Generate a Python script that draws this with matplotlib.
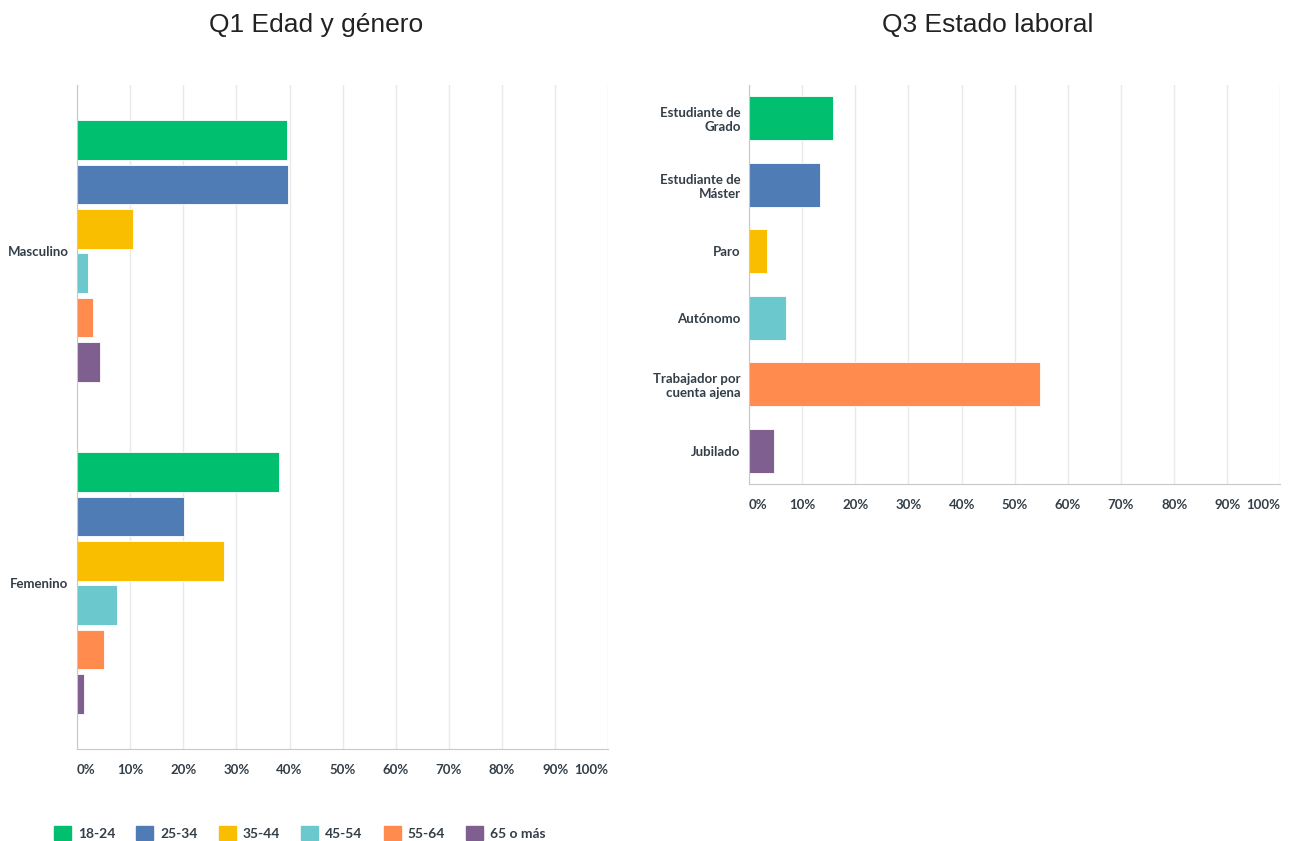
import matplotlib

matplotlib.use("Agg")

import matplotlib.pyplot as plt
import numpy as np
from matplotlib.patches import Patch

# ---------------------------------------------------------------------
# Datos
# ---------------------------------------------------------------------
genders = ["Masculino", "Femenino"]
age_groups = ["18-24", "25-34", "35-44", "45-54", "55-64", "65 o más"]
age_masculino = [39.6, 39.7, 10.6, 2.0, 3.1, 4.4]
age_femenino = [38.0, 20.2, 27.7, 7.5, 5.0, 1.3]

job_status = ["Estudiante de\nGrado", "Estudiante de\nMáster", "Paro",
              "Autónomo", "Trabajador por\ncuenta ajena", "Jubilado"]
job_values = [15.8, 13.4, 3.4, 7.0, 54.8, 4.6]

colors = ["#00bf6f", "#507cb6", "#f9be00", "#6bc8cd", "#ff8b4f", "#7f5f90"]
xticks = list(range(0, 101, 10))
xtick_labels = [f"{t}%" for t in xticks]

TEXT = "#333e48"
GRID = "#e9e9e9"
SPINE = "#c8c8c8"
LABEL_FONT = "Lato"


def style_axis(ax):
    ax.set_xlim(0, 100)
    ax.set_xticks(xticks)
    ax.set_xticklabels(xtick_labels)
    ax.grid(True, axis="x", color=GRID, linewidth=1.0)
    ax.set_axisbelow(True)
    for side in ("top", "right"):
        ax.spines[side].set_visible(False)
    ax.spines["left"].set_color(SPINE)
    ax.spines["bottom"].set_color(SPINE)
    ax.tick_params(axis="both", length=0, colors=TEXT)
    ax.tick_params(axis="x", pad=11)
    ax.tick_params(axis="y", pad=6)
    for lab in ax.get_xticklabels() + ax.get_yticklabels():
        lab.set_fontfamily(LABEL_FONT)
        lab.set_fontweight("bold")
        lab.set_fontsize(9.5)
        lab.set_color(TEXT)
    xl = ax.get_xticklabels()
    xl[0].set_horizontalalignment("left")
    xl[-1].set_horizontalalignment("right")


fig = plt.figure(figsize=(12.96, 8.41), dpi=100)

# ---------------------------------------------------------------------
# Q1 Edad y genero
# ---------------------------------------------------------------------
ax1 = fig.add_axes([0.0594, 0.1094, 0.410, 0.7895])
series = np.array([age_masculino, age_femenino])
pitch = 0.1335
bar_h = 0.12
y = np.arange(len(genders))
for i, (grp, col) in enumerate(zip(age_groups, colors)):
    offs = (i - (len(age_groups) - 1) / 2) * pitch
    ax1.barh(y + offs, series[:, i], height=bar_h, color=col,
             edgecolor="white", linewidth=0.6, label=grp)
ax1.set_yticks(y)
ax1.set_yticklabels(genders)
ax1.set_ylim(len(genders) - 0.5, -0.5)
style_axis(ax1)

# ---------------------------------------------------------------------
# Q3 Estado laboral
# ---------------------------------------------------------------------
ax2 = fig.add_axes([0.578, 0.4245, 0.410, 0.4744])
y2 = np.arange(len(job_status))
ax2.barh(y2, job_values, height=0.66, color=colors,
         edgecolor="white", linewidth=0.6)
ax2.set_yticks(y2)
ax2.set_yticklabels(job_status, multialignment="right")
ax2.set_ylim(len(job_status) - 0.5, -0.5)
style_axis(ax2)

# Titulos
fig.text(316 / 1296, 1 - 25 / 841, "Q1 Edad y género", ha="center", va="center",
         fontsize=19, family="Liberation Sans", color="#222222")
fig.text(988 / 1296, 1 - 25 / 841, "Q3 Estado laboral", ha="center", va="center",
         fontsize=19, family="Liberation Sans", color="#222222")

# Leyenda
handles = [Patch(facecolor=c, edgecolor=c, label=g) for g, c in zip(age_groups, colors)]
leg = fig.legend(handles=handles, loc="center left", ncol=6,
                 bbox_to_anchor=(41 / 1296, 1 - 833 / 841), frameon=False,
                 handlelength=1.25, handleheight=1.25, handletextpad=0.5,
                 columnspacing=1.5,
                 prop={"family": LABEL_FONT, "weight": "bold", "size": 10})
for t in leg.get_texts():
    t.set_color(TEXT)

fig.savefig("out.png", dpi=100)
